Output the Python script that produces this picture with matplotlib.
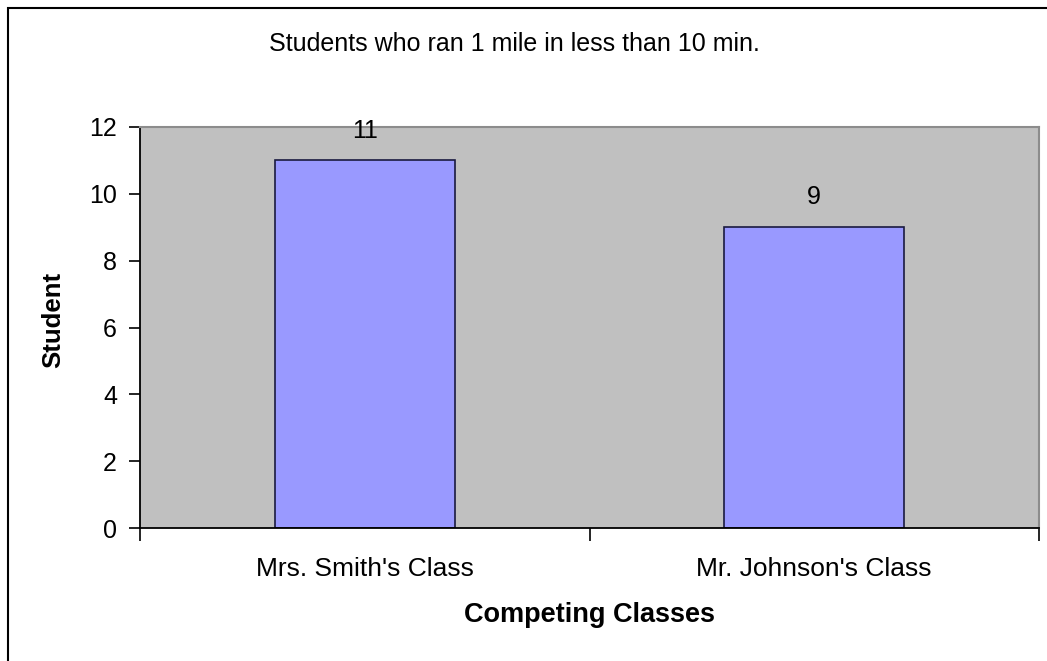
import matplotlib
matplotlib.use("Agg")
import matplotlib.pyplot as plt
from matplotlib.patches import Rectangle

plt.rcParams['font.family'] = ['Liberation Sans', 'DejaVu Sans']

categories = ["Mrs. Smith's Class", "Mr. Johnson's Class"]
students = [11, 9]
y_ticks = [0, 2, 4, 6, 8, 10, 12]

W, H, DPI = 1047, 661, 100
fig = plt.figure(figsize=(W / DPI, H / DPI), dpi=DPI)
fig.patch.set_facecolor('white')

# outer chart frame (left and top edges visible)
fig.patches.append(Rectangle((8 / W, -0.05), 1.2, (H - 8) / H + 0.05,
                             transform=fig.transFigure, fill=False,
                             edgecolor='black', linewidth=1.5, zorder=0))

ax_bottom, ax_top = 528, 127
ax = fig.add_axes([140 / W, (H - ax_bottom) / H, (1039 - 140) / W,
                   (ax_bottom - ax_top) / H])
ax.set_facecolor('#C0C0C0')

x = list(range(len(categories)))
bars = ax.bar(x, students, width=0.4, color='#9999FF',
              edgecolor='#1a1a40', linewidth=1.2, zorder=2)

for xi, v in zip(x, students):
    ax.annotate(str(v), (xi, v), xytext=(0, 21.5), textcoords='offset points',
                ha='center', va='center', fontsize=18, color='black',
                annotation_clip=False, zorder=3)

ax.set_xlim(-0.5, 1.5)
ax.set_ylim(0, 12)
ax.set_yticks(y_ticks)
ax.set_yticklabels([str(t) for t in y_ticks])

ax.set_xticks(x)
ax.set_xticklabels(categories)
ax.set_xticks([-0.5, 0.5, 1.5], minor=True)
ax.tick_params(axis='x', which='major', length=0, pad=21, labelsize=19)
ax.tick_params(axis='x', which='minor', length=9, width=1.2, direction='out', color='black')
ax.tick_params(axis='y', length=8, width=1.2, direction='out', pad=8.5, labelsize=18, color='black')

for side in ('left', 'bottom'):
    ax.spines[side].set_color('black')
    ax.spines[side].set_linewidth(1.3)
for side in ('top', 'right'):
    ax.spines[side].set_color('#8c8c8c')
    ax.spines[side].set_linewidth(1.5)

plot_h = ax_bottom - ax_top
ax.set_xlabel('Competing Classes', fontsize=19.5, fontweight='bold', va='center')
ax.xaxis.set_label_coords(0.5, (ax_bottom - 615) / plot_h)
ax.set_ylabel('Student', fontsize=18.5, fontweight='bold', va='center')
ax.yaxis.set_label_coords((53 - 140) / (1039 - 140), (ax_bottom - 320) / plot_h)

fig.text(514 / W, (H - 44) / H, 'Students who ran 1 mile in less than 10 min.',
         ha='center', va='center', fontsize=18)

fig.savefig('out.png', dpi=DPI)
